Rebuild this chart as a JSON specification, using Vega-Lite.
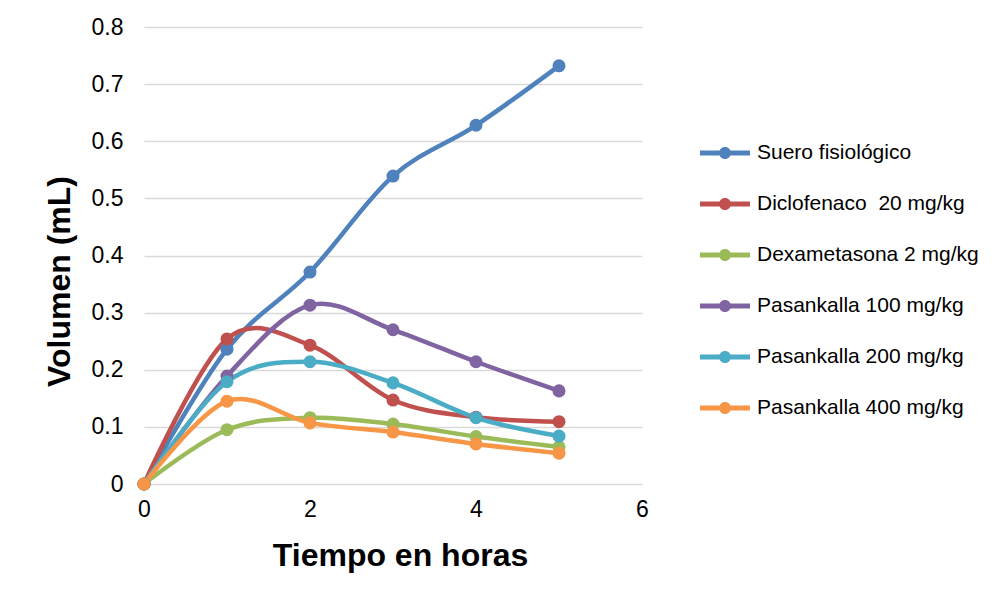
{
  "$schema": "https://vega.github.io/schema/vega-lite/v6.json",
  "width": 498,
  "height": 457,
  "autosize": {"type": "none"},
  "padding": {"left": 144, "top": 27, "right": 363, "bottom": 119},
  "background": "white",
  "config": {
    "font": "Liberation Sans",
    "view": {"stroke": null}
  },
  "data": {
    "values": [
      {"serie": "Suero fisiológico", "t": 0, "v": 0},
      {"serie": "Suero fisiológico", "t": 1, "v": 0.236},
      {"serie": "Suero fisiológico", "t": 2, "v": 0.371},
      {"serie": "Suero fisiológico", "t": 3, "v": 0.539},
      {"serie": "Suero fisiológico", "t": 4, "v": 0.628},
      {"serie": "Suero fisiológico", "t": 5, "v": 0.732},
      {"serie": "Diclofenaco\u00a0 20 mg/kg", "t": 0, "v": 0},
      {"serie": "Diclofenaco\u00a0 20 mg/kg", "t": 1, "v": 0.254},
      {"serie": "Diclofenaco\u00a0 20 mg/kg", "t": 2, "v": 0.243},
      {"serie": "Diclofenaco\u00a0 20 mg/kg", "t": 3, "v": 0.147},
      {"serie": "Diclofenaco\u00a0 20 mg/kg", "t": 4, "v": 0.117},
      {"serie": "Diclofenaco\u00a0 20 mg/kg", "t": 5, "v": 0.109},
      {"serie": "Dexametasona 2 mg/kg", "t": 0, "v": 0},
      {"serie": "Dexametasona 2 mg/kg", "t": 1, "v": 0.095},
      {"serie": "Dexametasona 2 mg/kg", "t": 2, "v": 0.116},
      {"serie": "Dexametasona 2 mg/kg", "t": 3, "v": 0.105},
      {"serie": "Dexametasona 2 mg/kg", "t": 4, "v": 0.083},
      {"serie": "Dexametasona 2 mg/kg", "t": 5, "v": 0.065},
      {"serie": "Pasankalla 100 mg/kg", "t": 0, "v": 0},
      {"serie": "Pasankalla 100 mg/kg", "t": 1, "v": 0.189},
      {"serie": "Pasankalla 100 mg/kg", "t": 2, "v": 0.313},
      {"serie": "Pasankalla 100 mg/kg", "t": 3, "v": 0.270},
      {"serie": "Pasankalla 100 mg/kg", "t": 4, "v": 0.214},
      {"serie": "Pasankalla 100 mg/kg", "t": 5, "v": 0.163},
      {"serie": "Pasankalla 200 mg/kg", "t": 0, "v": 0},
      {"serie": "Pasankalla 200 mg/kg", "t": 1, "v": 0.179},
      {"serie": "Pasankalla 200 mg/kg", "t": 2, "v": 0.214},
      {"serie": "Pasankalla 200 mg/kg", "t": 3, "v": 0.177},
      {"serie": "Pasankalla 200 mg/kg", "t": 4, "v": 0.116},
      {"serie": "Pasankalla 200 mg/kg", "t": 5, "v": 0.084},
      {"serie": "Pasankalla 400 mg/kg", "t": 0, "v": 0},
      {"serie": "Pasankalla 400 mg/kg", "t": 1, "v": 0.145},
      {"serie": "Pasankalla 400 mg/kg", "t": 2, "v": 0.107},
      {"serie": "Pasankalla 400 mg/kg", "t": 3, "v": 0.091},
      {"serie": "Pasankalla 400 mg/kg", "t": 4, "v": 0.070},
      {"serie": "Pasankalla 400 mg/kg", "t": 5, "v": 0.054}
    ]
  },
  "encoding": {
    "x": {
      "field": "t",
      "type": "quantitative",
      "scale": {"domain": [0, 6], "nice": false},
      "axis": {
        "title": "Tiempo en horas",
        "values": [0, 2, 4, 6],
        "grid": false,
        "domain": false,
        "ticks": false,
        "labelFlush": false,
        "labelFontSize": 23,
        "labelColor": "#000000",
        "labelPadding": 14,
        "titleFontSize": 32,
        "titleFontWeight": "bold",
        "titleColor": "#000000",
        "titlePadding": 19,
        "titleX": 256
      }
    },
    "y": {
      "field": "v",
      "type": "quantitative",
      "scale": {"domain": [0, 0.8], "nice": false},
      "axis": {
        "title": "Volumen (mL)",
        "values": [0, 0.1, 0.2, 0.3, 0.4, 0.5, 0.6, 0.7, 0.8],
        "format": ".1~f",
        "grid": true,
        "gridColor": "#d9d9d9",
        "gridWidth": 1.5,
        "domain": false,
        "ticks": false,
        "labelFlush": false,
        "labelFontSize": 23,
        "labelColor": "#000000",
        "labelPadding": 21,
        "titleFontSize": 32,
        "titleFontWeight": "bold",
        "titleColor": "#000000",
        "titlePadding": 15,
        "titleY": 254
      }
    },
    "color": {
      "field": "serie",
      "type": "nominal",
      "sort": null,
      "scale": {
        "domain": ["Suero fisiológico", "Diclofenaco\u00a0 20 mg/kg", "Dexametasona 2 mg/kg", "Pasankalla 100 mg/kg", "Pasankalla 200 mg/kg", "Pasankalla 400 mg/kg"],
        "range": ["#4f81bd", "#c0504d", "#9bbb59", "#8064a2", "#4bacc6", "#f79646"]
      },
      "legend": {
        "title": null,
        "orient": "none",
        "legendX": 556,
        "legendY": 101,
        "symbolType": "M-1,-0.1H1V0.1H-1Z M0.24,0A0.24,0.24 0 1,1 -0.24,0A0.24,0.24 0 1,1 0.24,0Z",
        "symbolSize": 2500,
        "symbolStrokeWidth": 0,
        "labelFontSize": 21,
        "labelColor": "#000000",
        "labelOffset": 7,
        "rowPadding": 16,
        "labelLimit": 300,
        "encode": {
          "symbols": {
            "update": {
              "fill": {"scale": "color", "field": "value"},
              "fillOpacity": {"value": 1},
              "strokeWidth": {"value": 0}
            }
          }
        }
      }
    }
  },
  "layer": [
    {
      "mark": {"type": "line", "interpolate": "cardinal", "strokeWidth": 4.5}
    },
    {
      "mark": {"type": "point", "filled": true, "size": 170, "opacity": 1}
    }
  ]
}
